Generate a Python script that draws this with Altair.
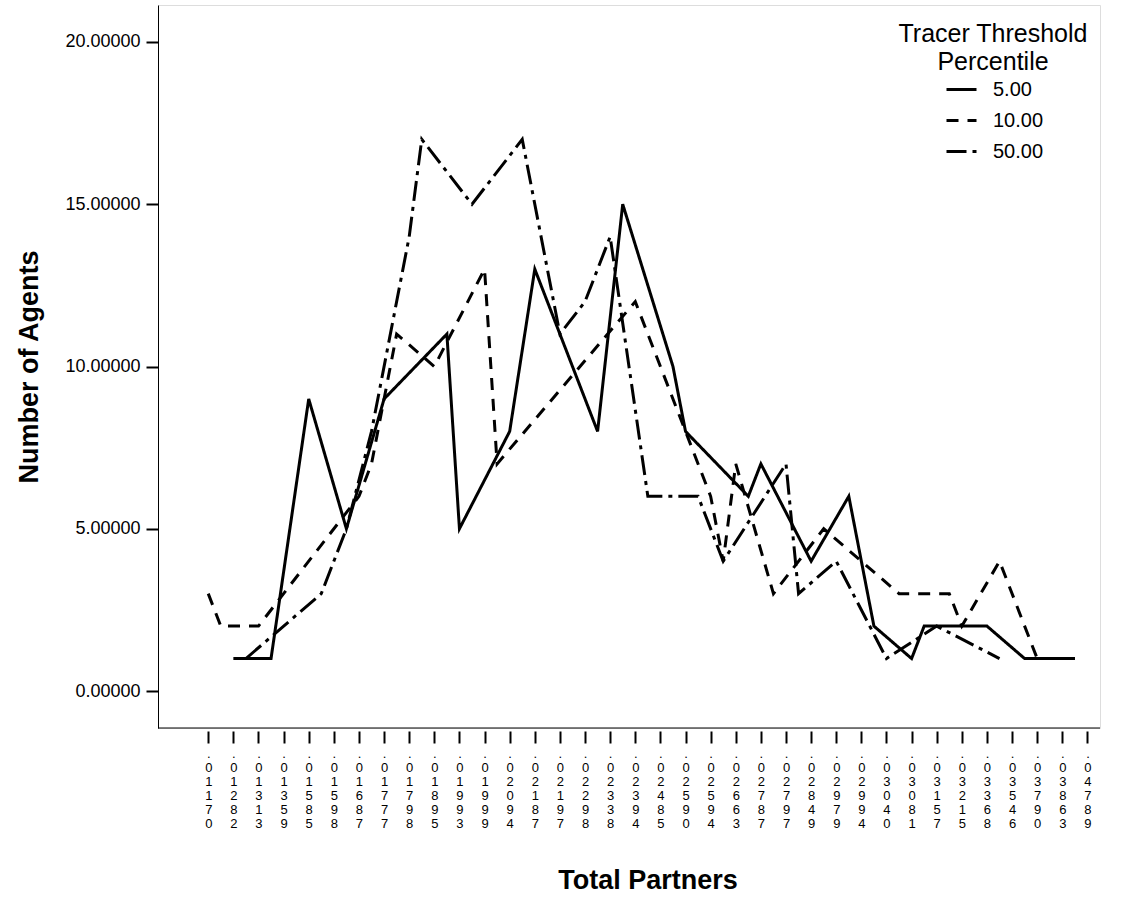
import altair as alt
import pandas as pd

# Total Partners categories that carry a printed label (every second category)
tick_labels = [
    ".01170", ".01282", ".01313", ".01359", ".01585", ".01598", ".01687",
    ".01777", ".01798", ".01895", ".01993", ".01999", ".02094", ".02187",
    ".02197", ".02298", ".02338", ".02394", ".02485", ".02590", ".02594",
    ".02663", ".02787", ".02797", ".02849", ".02979", ".02994", ".03040",
    ".03081", ".03157", ".03215", ".03368", ".03546", ".03790", ".03863",
    ".04789",
]
n_categories = 71  # category slots along the axis; labels sit on even slots

# Number of agents per category slot, one list pair per tracer threshold
pos_5 = [2, 5, 8, 11, 14, 19, 20, 24, 26, 31, 33, 37, 38, 43, 44, 48, 51, 53, 56, 57, 62, 65, 69]
val_5 = [1, 1, 9, 5, 9, 11, 5, 8, 13, 8, 15, 10, 8, 6, 7, 4, 6, 2, 1, 2, 2, 1, 1]

pos_10 = [0, 1, 4, 12, 13, 15, 18, 22, 23, 34, 40, 41, 42, 45, 49, 55, 59, 60, 63, 66, 69]
val_10 = [3, 2, 2, 6, 7, 11, 10, 13, 7, 12, 6, 4, 7, 3, 5, 3, 3, 2, 4, 1, 1]

pos_50 = [3, 9, 11, 13, 16, 17, 21, 25, 28, 30, 32, 35, 39, 41, 46, 47, 50, 54, 58, 63]
val_50 = [1, 3, 5, 8, 14, 17, 15, 17, 11, 12, 14, 6, 6, 4, 7, 3, 4, 1, 2, 1]

series_names = ["5.00", "10.00", "50.00"]
dash_styles = [[1, 0], [12, 9], [20, 6, 4, 6]]
legend_title = ["Tracer Threshold", "Percentile"]

rows = []
for name, pos, val in zip(series_names, [pos_5, pos_10, pos_50], [val_5, val_10, val_50]):
    for p, v in zip(pos, val):
        rows.append({"threshold": name, "slot": p, "agents": v})
df = pd.DataFrame(rows)

W, H = 942, 723
FONT = "Liberation Sans"

label_array = "[" + ",".join("'" + s + "'" for s in tick_labels) + "]"
label_expr = "split(" + label_array + "[round(datum.value / 2)], '')"

x_axis = alt.Axis(
    values=list(range(0, n_categories, 2)),
    labelExpr=label_expr,
    domain=False,
    grid=False,
    offset=3,
    tickSize=12,
    tickWidth=2,
    tickColor="black",
    labelAngle=0,
    labelAlign="center",
    labelBaseline="top",
    labelFontSize=13,
    labelLineHeight=14,
    labelPadding=4,
    labelOverlap=False,
    labelFlush=False,
    labelColor="black",
    title="Total Partners",
    titleFontSize=27,
    titleFontWeight="bold",
    titleX=489.5,
    titleY=149,
    titleBaseline="middle",
    titleAlign="center",
)

y_axis = alt.Axis(
    values=[0, 5, 10, 15, 20],
    format=".5f",
    grid=False,
    domainColor="black",
    domainWidth=1,
    tickSize=12,
    tickWidth=2,
    tickColor="black",
    labelFontSize=18,
    labelPadding=6,
    labelColor="black",
    title="Number of Agents",
    titleFontSize=27,
    titleFontWeight="bold",
    titleX=-129,
    titleY=361.5,
    titleAngle=270,
    titleBaseline="middle",
    titleAlign="center",
)

legend = alt.Legend(
    title=None,
    orient="none",
    legendX=787,
    legendY=68,
    padding=0,
    symbolType="stroke",
    symbolSize=900,
    symbolStrokeWidth=3,
    symbolStrokeColor="black",
    labelFontSize=20,
    labelOffset=15,
    labelColor="black",
    rowPadding=4,
)

lines = alt.Chart(df).mark_line(
    color="black", strokeWidth=3, strokeJoin="miter", strokeCap="butt"
).encode(
    x=alt.X("slot:Q", scale=alt.Scale(domain=[-4, 71], nice=False, zero=False), axis=x_axis),
    y=alt.Y("agents:Q", scale=alt.Scale(domain=[-1.14, 21.14], nice=False, zero=False), axis=y_axis),
    strokeDash=alt.StrokeDash(
        "threshold:N",
        scale=alt.Scale(domain=series_names, range=dash_styles),
        legend=legend,
    ),
)

# legend heading, two centred lines above the legend entries
legend_heading = alt.Chart(pd.DataFrame({"k": [0]})).mark_text(
    text=legend_title,
    font=FONT,
    fontSize=25,
    lineHeight=28,
    align="center",
    baseline="alphabetic",
    color="black",
).encode(x=alt.value(835), y=alt.value(37))

# horizontal axis line along the bottom of the plot
base_line = alt.Chart(pd.DataFrame({"k": [0]})).mark_rule(
    color="black", strokeWidth=1
).encode(x=alt.value(0), x2=alt.value(W), y=alt.value(H))

chart = alt.layer(lines, base_line, legend_heading).properties(
    width=W,
    height=H,
    padding={"left": 158, "top": 5, "right": 21, "bottom": 173},
    autosize=alt.AutoSizeParams(type="none"),
    background="white",
).configure_view(stroke=None).configure(font=FONT).configure_axis(
    labelFont=FONT, titleFont=FONT
).configure_legend(labelFont=FONT, titleFont=FONT)

chart.save("out.html", embed_options={"renderer": "svg", "actions": False})
